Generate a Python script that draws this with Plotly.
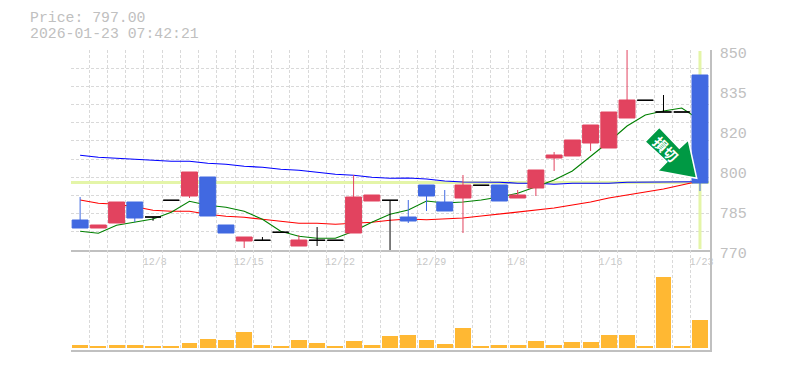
import plotly.graph_objects as go

W, H = 785, 370
L, R, T, B = 70.5, 710.0, 50.0, 350.0

dates_idx = list(range(35))
tick_idx = [3.5, 8.5, 13.5, 18.5, 23.5, 28.5, 33.5]
tick_labels = ["12/8", "12/15", "12/22", "12/29", "1/8", "1/16", "1/23"]

opens = [782, 778.8, 780.8, 789.2, 783.2, 789.9, 791.6, 799.2, 780, 773.6, 773.9, 777.1,
         771.6, 773.9, 773.9, 776.8, 789.6, 789.9, 783.2, 796, 789.2, 790.8, 795.9, 796,
         790.8, 794.8, 806.8, 807.6, 812.8, 810.8, 822.8, 829.9, 825.2, 825.2, 840]
highs = [791.2, 780, 789.2, 789.2, 783.2, 789.9, 801.2, 799.2, 780, 775.2, 775.2, 777.1,
         776, 779.2, 773.9, 800, 792, 789.9, 790, 796, 794, 800, 795.9, 796,
         794, 802, 809.2, 814, 820, 825.2, 850, 829.9, 832, 825.2, 840]
lows = [778.8, 778.8, 780.8, 781.2, 781.7, 789.9, 790.8, 783.6, 776.8, 770.8, 773.9, 777.1,
        771.6, 771.6, 773.9, 776.8, 789.6, 770, 780.8, 785.6, 785.6, 776.8, 795.9, 789.6,
        790.8, 791.6, 801.6, 807.6, 809.6, 810.8, 822.8, 829.9, 825.2, 825.2, 793.6]
closes = [778.8, 780, 789.2, 782.8, 783.2, 789.9, 801.2, 783.6, 776.8, 775.2, 773.9, 777.1,
          774, 773.9, 773.9, 791.2, 792, 789.9, 781.6, 791.6, 785.6, 796, 795.9, 789.6,
          792, 802, 808, 814, 820, 825.2, 830, 829.9, 825.2, 825.2, 796.8]
colour_flags = ["b", "r", "r", "b", "k", "k", "r", "b", "b", "r", "k", "k",
                "r", "k", "k", "r", "r", "k", "b", "b", "b", "r", "k", "b",
                "r", "r", "r", "r", "r", "r", "r", "k", "k", "k", "b"]

ma_green = [777.5, 776.7, 779.9, 781.2, 782.4, 785.1, 789.5, 787.9, 787.1, 785.5, 782.3, 777.5,
            775.5, 774.7, 774.7, 777.5, 781.1, 784.3, 786, 789.6, 788.8, 789.2, 790, 791.2,
            792.7, 795.3, 798, 801.6, 807.3, 813.3, 819.6, 824, 825.6, 826.8, 822]
ma_red = [790, 788.7, 788.3, 787.3, 785.9, 785.5, 785.5, 784.3, 783.5, 783.1, 782.3, 781.5,
          780.7, 780.7, 780.3, 780.7, 781.1, 781.9, 782.4, 782.1, 782.3, 782.8, 783.6, 784.4,
          785.2, 786, 786.8, 788, 789.2, 790.8, 792, 793.1, 794.4, 796, 797.6]
ma_blue = [807.9, 807.1, 806.7, 806.3, 805.9, 805.5, 805.5, 804.7, 804.3, 803.5, 803.1, 802.3,
           801.9, 801.1, 800.3, 799.9, 799.1, 798.7, 798.8, 798.4, 797.6, 797.2, 797.2, 797.1,
           796.7, 796.7, 796.3, 796.7, 796.7, 796.7, 797.1, 797.1, 797.1, 797.2, 797.3]
volumes = [3, 2, 3, 3, 2, 2, 5, 9, 8, 16, 3, 2, 8, 5, 2, 7, 3, 12, 13, 8, 4, 20, 2, 3, 3, 7,
           3, 6, 6, 13, 13, 2, 71, 2, 28]

last_price = 797
last_x = 34
price_text = "Price: 797.00"
time_text = "2026-01-23 07:42:21"
signal_text = "損切"
price_tick_vals = [770, 786, 802, 818, 834, 850]
price_tick_text = ["770", "785", "800", "820", "835", "850"]
price_grid_n = 11

GREY = "#c0c0c0"
GRID = "#d9d9d9"
HL = "#e4f5a8"
RED = "#e2435f"
BLUE = "#4169e1"
ORANGE = "#ffb833"
FONT = "Liberation Mono"

fig = go.Figure()

for xs, ys, name in [([-0.5, 34.5], [last_price, last_price], "last"),
                     ([last_x, last_x], [770.4, 849.6], "now")]:
    fig.add_trace(go.Scatter(x=xs, y=ys, mode="lines", line=dict(color=HL, width=3),
                             hoverinfo="skip", showlegend=False, name=name))
for ys, c, w in [(ma_blue, "#0000ff", 1.2), (ma_red, "#ff0000", 1.2), (ma_green, "#008000", 1.1)]:
    fig.add_trace(go.Scatter(x=dates_idx, y=ys, mode="lines", line=dict(color=c, width=w),
                             showlegend=False))

for flag, colour in [("r", RED), ("b", BLUE), ("k", "#000000")]:
    sel = [i for i in dates_idx if colour_flags[i] == flag]
    style = dict(line=dict(color=colour, width=1), fillcolor=colour)
    fig.add_trace(go.Candlestick(
        x=sel,
        open=[opens[i] for i in sel], high=[highs[i] for i in sel],
        low=[lows[i] for i in sel], close=[closes[i] for i in sel],
        increasing=style, decreasing=style, whiskerwidth=0, showlegend=False,
        yaxis="y3"))

fig.add_trace(go.Bar(x=dates_idx, y=volumes, marker=dict(color=ORANGE, line=dict(width=0)),
                     width=0.875, xaxis="x2", yaxis="y2", showlegend=False))

gridstyle = dict(gridcolor=GRID, gridwidth=1, griddash="3px,2px")
vgrid = [i - 0.5 for i in range(36)]
fh = (B - T)

fig.update_layout(
    width=W, height=H, autosize=False,
    margin=dict(l=L, r=W - R, t=T, b=H - B, pad=0, autoexpand=False),
    paper_bgcolor="white", plot_bgcolor="white",
    boxgap=0.125, boxgroupgap=0, boxmode="overlay", showlegend=False, bargap=0,
    xaxis=dict(domain=[0, 1], range=[-0.5, 34.55], anchor="y", rangeslider=dict(visible=False),
               tickmode="array", tickvals=tick_idx, ticktext=tick_labels,
               ticklabelposition="outside right", ticklabelshift=-2, ticklabelstandoff=1,
               ticks="", showgrid=True, **gridstyle,
               minor=dict(tickmode="array", tickvals=vgrid, showgrid=True, ticks="", **gridstyle),
               showline=True, linecolor=GREY, linewidth=1.5, zeroline=False,
               tickfont=dict(family=FONT, size=10, color="#c8c8c8")),
    xaxis2=dict(domain=[0, 1], range=[-0.5, 34.55], anchor="y2",
                tickmode="array", tickvals=vgrid, showticklabels=False, ticks="",
                showgrid=True, **gridstyle,
                showline=True, linecolor=GREY, linewidth=2, zeroline=False),
    yaxis=dict(domain=[100 / fh, 1], range=[770, 850], side="right", anchor="x",
               tickmode="array", tickvals=price_tick_vals, ticktext=price_tick_text,
               ticklabelshift=3, ticklabelstandoff=5, ticks="", showgrid=False, zeroline=False,
               minor=dict(tickmode="array",
                          tickvals=[770 + 80 * k / price_grid_n for k in range(price_grid_n + 1)],
                          showgrid=True, ticks="", **gridstyle),
               showline=True, linecolor=GREY, linewidth=1.5,
               tickfont=dict(family=FONT, size=15, color=GREY)),
    yaxis2=dict(domain=[0, 100 / fh], range=[-2, 98], side="right", anchor="x2",
                showticklabels=False, ticks="", showgrid=False, zeroline=False,
                showline=True, linecolor=GREY, linewidth=1.5),
    yaxis3=dict(overlaying="y", range=[770, 850], side="right", anchor="x",
                visible=False, showgrid=False, zeroline=False),
)

for txt, dy in [(price_text, 32), (time_text, 16)]:
    fig.add_annotation(text=txt, xref="paper", yref="paper", x=0, y=1, xanchor="left",
                       yanchor="middle", xshift=27 - L, yshift=dy, showarrow=False,
                       font=dict(family=FONT, size=14.8, color=GREY))


def px(xp, yp):
    return f"{(xp - L) / (R - L):.5f},{1 - (yp - T) / (B - T):.5f}"


arrow = [(645, 141.7), (659.3, 127.3), (679.3, 148.3), (688.3, 140), (696.7, 178.3),
         (657.7, 171), (666.7, 161.7)]
path = "M " + " L ".join(px(*p) for p in arrow) + " Z"
fig.add_shape(type="path", path=path, xref="paper", yref="paper",
              fillcolor="#009944", line=dict(color="white", width=1.5), layer="above")
fig.add_annotation(text=f"<b>{signal_text}</b>", xref="paper", yref="paper",
                   x=(666 - L) / (R - L), y=1 - (149 - T) / (B - T),
                   xanchor="center", yanchor="middle",
                   textangle=45, showarrow=False,
                   font=dict(family="Noto Sans CJK JP", size=14, color="white"))

fig.write_html("out.html", config={"displayModeBar": False},
               post_script="document.body.style.margin='0';document.body.style.padding='0';")
